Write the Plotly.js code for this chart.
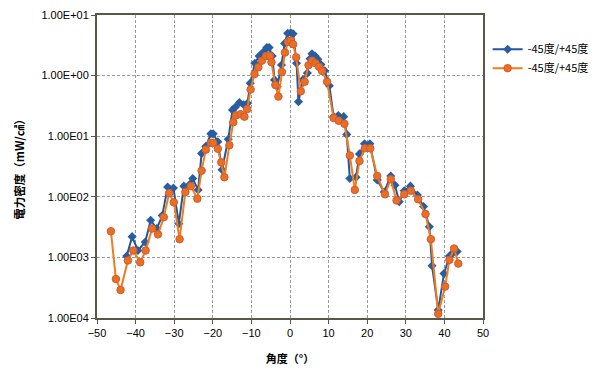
<!DOCTYPE html>
<html>
<head>
<meta charset="utf-8">
<script src="https://cdn.plot.ly/plotly-3.0.1.min.js"></script>
<style>html,body{margin:0;padding:0;background:#fff}#chart{width:595px;height:371px}</style>
</head>
<body>
<div id="chart"></div>
<script>
// Series A (blue diamonds)
const angleA = [-42.3,-40.9,-39.4,-37.5,-36.1,-34.5,-33.1,-31.7,-30.2,-28.8,-27.5,-26.0,-25.2,-23.8,-22.9,-21.8,-20.5,-19.9,-18.7,-17.6,-16.0,-14.9,-14.2,-13.1,-12.0,-11.0,-10.3,-9.1,-8.0,-6.9,-6.0,-5.4,-4.6,-4.0,-3.3,-2.2,-1.4,-0.6,0.2,0.8,1.7,2.2,3.3,4.5,5.2,5.7,6.5,7.2,8.0,9.0,10.2,11.3,12.5,13.9,14.7,15.5,17.1,18.0,19.3,20.7,22.6,24.4,26.1,27.2,28.3,29.6,31.2,33.0,34.6,36.1,36.8,38.4,39.9,41.3,42.3,43.3];
const powerA = [1.05e-3,2.2e-3,1.3e-3,1.8e-3,4.1e-3,3.0e-3,4.9e-3,1.45e-2,1.4e-2,3.6e-3,1.5e-2,1.6e-2,2.0e-2,1.3e-2,5.2e-2,6.8e-2,0.11,0.11,8.1e-2,2.8e-2,8.9e-2,0.27,0.30,0.36,0.33,0.35,0.75,1.6,2.1,2.45,2.9,2.9,2.1,0.85,0.66,1.5,3.4,5.0,5.1,4.9,1.6,0.37,0.85,1.1,1.9,2.3,2.1,1.86,1.52,1.2,0.68,0.21,0.22,0.21,0.107,2.0e-2,2.1e-2,5.1e-2,7.5e-2,7.5e-2,1.9e-2,1.2e-2,2.2e-2,1.55e-2,8.3e-3,1.26e-2,1.5e-2,1.07e-2,6.9e-3,3.2e-3,7.3e-4,1.35e-4,5.4e-4,1.05e-3,1.2e-3,1.25e-3];
// Series B (orange circles)
const angleB = [-46.4,-45.1,-43.9,-42.0,-40.6,-38.8,-37.4,-35.7,-34.2,-32.7,-31.3,-30.1,-28.6,-27.1,-25.7,-24.0,-22.9,-21.8,-20.5,-19.9,-18.7,-17.8,-17.0,-15.7,-14.7,-14.0,-12.8,-11.8,-11.1,-10.2,-9.2,-8.2,-7.3,-6.2,-5.2,-4.8,-3.8,-3.0,-2.1,-1.3,-0.5,0.2,0.8,1.6,2.8,3.8,4.8,5.7,6.6,7.5,8.3,9.6,11.3,12.6,14.1,15.5,16.8,18.0,19.4,20.8,22.6,24.6,26.1,27.6,29.6,31.3,33.2,35.1,36.5,38.4,40.2,41.3,42.5,43.6];
const powerB = [2.7e-3,4.4e-4,2.9e-4,8.9e-4,1.3e-3,8.3e-4,1.3e-3,3.0e-3,2.4e-3,4.6e-3,1.15e-2,8.1e-3,2.0e-3,1.2e-2,1.5e-2,9.3e-3,2.7e-2,6.0e-2,7.8e-2,7.8e-2,6.2e-2,3.7e-2,2.1e-2,7.1e-2,0.17,0.22,0.23,0.21,0.28,0.59,1.06,1.37,1.76,2.1,2.1,1.66,0.70,0.45,1.15,2.4,3.6,3.8,3.3,2.0,0.55,0.79,1.48,1.76,1.6,1.40,1.19,0.79,0.20,0.18,0.16,4.8e-2,1.3e-2,3.9e-2,6.3e-2,6.3e-2,2.2e-2,1.1e-2,1.95e-2,8.7e-3,1.1e-2,1.26e-2,9.1e-3,5.2e-3,2.0e-3,1.17e-4,3.3e-4,9.1e-4,1.4e-3,7.9e-4];
const seriesNames = ['-45度/+45度','-45度/+45度'];
const yTickVals = [10,1,0.1,0.01,0.001,0.0001];
const yTickText = ['1.00E+01','1.00E+00','1.00E01','1.00E02','1.00E03','1.00E04'];
const xTickVals = [-50,-40,-30,-20,-10,0,10,20,30,40,50];

const FONT = 'Liberation Sans, Arial, "Noto Sans CJK JP", sans-serif';
const CJK = '"Noto Sans CJK JP", "Liberation Sans", sans-serif';

const traces = [
  {x: angleA, y: powerA, name: seriesNames[0], mode: 'lines+markers', type: 'scatter',
   line: {color: '#22579c', width: 2},
   marker: {symbol: 'diamond', size: 7, color: '#2a5d9f', line: {color: '#2a5d9f', width: 0}}},
  {x: angleB, y: powerB, name: seriesNames[1], mode: 'lines+markers', type: 'scatter',
   line: {color: '#f07c1c', width: 2},
   marker: {symbol: 'circle', size: 7.5, color: '#e8701e', line: {color: '#d4583a', width: 1}}}
];

const layout = {
  width: 595, height: 371,
  margin: {l: 97, r: 112, t: 15, b: 53, autoexpand: false},
  paper_bgcolor: '#ffffff', plot_bgcolor: '#ffffff',
  font: {family: FONT, size: 11, color: '#000'},
  showlegend: true,
  legend: {x: 1.012, xanchor: 'left', y: 0.935, yanchor: 'top', font: {family: CJK, size: 11, color: '#000'},
           bgcolor: 'rgba(0,0,0,0)', borderwidth: 0, tracegroupgap: 0},
  xaxis: {
    range: [-50, 50], tickvals: xTickVals, zeroline: false, automargin: false,
    showgrid: true, gridcolor: '#9a9a9a', griddash: '3px,2px', gridwidth: 1,
    showline: true, linecolor: '#5a5648', linewidth: 2, mirror: true,
    ticks: 'outside', ticklen: 4, tickcolor: '#5a5648',
    tickfont: {family: FONT, size: 11},
    title: {text: '<b>角度（°）</b>', font: {family: CJK, size: 11}, standoff: 17}
  },
  yaxis: {
    type: 'log', range: [-4, 1], tickvals: yTickVals, ticktext: yTickText, automargin: false,
    showgrid: true, gridcolor: '#9a9a9a', griddash: '3px,2px', gridwidth: 1,
    showline: true, linecolor: '#5a5648', linewidth: 2, mirror: true,
    ticks: 'outside', ticklen: 4, tickcolor: '#5a5648',
    tickfont: {family: FONT, size: 11},
    title: {text: '<b>電力密度（mW/㎠）</b>', font: {family: CJK, size: 11.5}, standoff: 14}
  }
};

Plotly.newPlot('chart', traces, layout, {staticPlot: true, displayModeBar: false});
</script>
</body>
</html>
